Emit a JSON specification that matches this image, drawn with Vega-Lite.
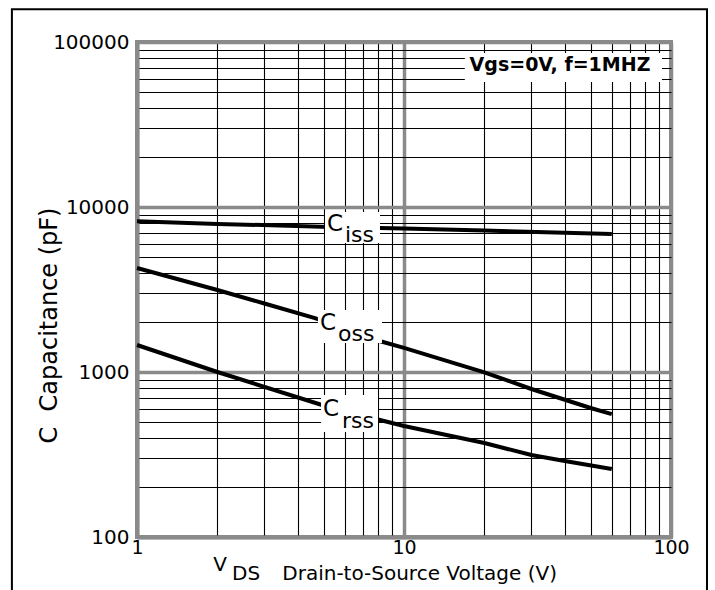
{
  "$schema": "https://vega.github.io/schema/vega-lite/v6.json",
  "width": 534,
  "height": 495,
  "autosize": {"type": "none"},
  "padding": {"left": 137, "top": 42, "right": 44, "bottom": 53},
  "background": "white",
  "datasets": {
    "curves": [
      {"s": "Ciss", "x": 1, "y": 8200}, {"s": "Ciss", "x": 2, "y": 7900}, {"s": "Ciss", "x": 4.9, "y": 7600},
      {"s": "Ciss", "x": 8.1, "y": 7460}, {"s": "Ciss", "x": 10, "y": 7420}, {"s": "Ciss", "x": 20, "y": 7200},
      {"s": "Ciss", "x": 40, "y": 6970}, {"s": "Ciss", "x": 60, "y": 6850},
      {"s": "Coss", "x": 1, "y": 4270}, {"s": "Coss", "x": 2, "y": 3140}, {"s": "Coss", "x": 3, "y": 2600},
      {"s": "Coss", "x": 4.64, "y": 2120}, {"s": "Coss", "x": 8.1, "y": 1541}, {"s": "Coss", "x": 10, "y": 1400},
      {"s": "Coss", "x": 20, "y": 995}, {"s": "Coss", "x": 30, "y": 789}, {"s": "Coss", "x": 50, "y": 605},
      {"s": "Coss", "x": 60, "y": 556},
      {"s": "Crss", "x": 1, "y": 1458}, {"s": "Crss", "x": 2, "y": 1000}, {"s": "Crss", "x": 4.93, "y": 631},
      {"s": "Crss", "x": 8.13, "y": 512}, {"s": "Crss", "x": 10, "y": 471}, {"s": "Crss", "x": 20, "y": 371},
      {"s": "Crss", "x": 30, "y": 314}, {"s": "Crss", "x": 40, "y": 289}, {"s": "Crss", "x": 60, "y": 258}
    ],
    "boxes": [
      {"x": 5.06, "x2": 8.13, "y": 9333, "y2": 6053},
      {"x": 4.76, "x2": 8.27, "y": 2377, "y2": 1500},
      {"x": 4.89, "x2": 7.99, "y": 726, "y2": 433},
      {"x": 16.9, "x2": 92.5, "y": 85700, "y2": 57300}
    ],
    "frame": [
      {"x": 0.34, "x2": 136.4, "y": 158000, "y2": 30}
    ],
    "bigC": [
      {"x": 5.15, "y": 7943, "t": "C"},
      {"x": 4.85, "y": 1995, "t": "C"},
      {"x": 4.97, "y": 593, "t": "C"}
    ],
    "subs": [
      {"x": 6.01, "y": 6761, "t": "iss"},
      {"x": 5.66, "y": 1698, "t": "oss"},
      {"x": 5.86, "y": 505, "t": "rss"}
    ],
    "cond": [
      {"x": 38.4, "y": 72600, "t": "Vgs=0V, f=1MHZ"}
    ],
    "xt1": [
      {"x": 1.93, "y": 62, "t": "V"}
    ],
    "xt2": [
      {"x": 2.27, "y": 54.5, "t": "DS"},
      {"x": 3.5, "y": 54.5, "t": "Drain-to-Source Voltage (V)"}
    ]
  },
  "encoding": {
    "x": {
      "field": "x", "type": "quantitative",
      "scale": {"type": "log", "domain": [1, 100], "nice": false},
      "axis": {
        "title": null,
        "values": [1, 2, 3, 4, 5, 6, 7, 8, 9, 10, 20, 30, 40, 50, 60, 70, 80, 90, 100],
        "labelExpr": "indexof([1,10,100], datum.value) >= 0 ? format(datum.value, 'd') : ''",
        "labelOverlap": false,
        "labelFlush": false,
        "labelBaseline": "top",
        "labelPadding": 1,
        "labelFontSize": 19,
        "ticks": false,
        "grid": true,
        "gridColor": {"condition": {"test": "indexof([1,10,100], datum.value) >= 0", "value": "#8a8a8a"}, "value": "#000000"},
        "gridWidth": {"condition": {"test": "indexof([1,10,100], datum.value) >= 0", "value": 3.5}, "value": 1.1},
        "gridOpacity": 1,
        "domainColor": "#8a8a8a",
        "domainWidth": 4
      }
    },
    "y": {
      "field": "y", "type": "quantitative",
      "scale": {"type": "log", "domain": [100, 100000], "nice": false},
      "axis": {
        "title": "C\u00a0 Capacitance (pF)",
        "titleX": -88,
        "titleY": 283,
        "titleAngle": -90,
        "titleAlign": "center",
        "titleBaseline": "middle",
        "titleFontSize": 24,
        "values": [100, 200, 300, 400, 500, 600, 700, 800, 900, 1000, 2000, 3000, 4000, 5000, 6000, 7000, 8000, 9000, 10000, 20000, 30000, 40000, 50000, 60000, 70000, 80000, 90000, 100000],
        "labelExpr": "indexof([100,1000,10000,100000], datum.value) >= 0 ? format(datum.value, 'd') : ''",
        "labelOverlap": false,
        "labelFlush": false,
        "labelPadding": 8,
        "ticks": false,
        "grid": true,
        "gridColor": {"condition": {"test": "indexof([100,1000,10000,100000], datum.value) >= 0", "value": "#8a8a8a"}, "value": "#000000"},
        "gridWidth": {"condition": {"test": "indexof([100,1000,10000,100000], datum.value) >= 0", "value": 3.5}, "value": 1.1},
        "gridOpacity": 1,
        "domainColor": "#8a8a8a",
        "domainWidth": 4
      }
    }
  },
  "layer": [
    {
      "data": {"name": "curves"},
      "mark": {"type": "line", "color": "black", "strokeWidth": 4, "strokeCap": "butt"},
      "encoding": {"detail": {"field": "s", "type": "nominal"}}
    },
    {
      "data": {"name": "boxes"},
      "mark": {"type": "rect", "fill": "white", "stroke": null},
      "encoding": {"x2": {"field": "x2"}, "y2": {"field": "y2"}}
    },
    {
      "data": {"name": "frame"},
      "mark": {"type": "rect", "filled": false, "stroke": "black", "strokeWidth": 2},
      "encoding": {"x2": {"field": "x2"}, "y2": {"field": "y2"}}
    },
    {
      "data": {"name": "bigC"},
      "mark": {"type": "text", "font": "DejaVu Sans", "fontSize": 23, "align": "left", "baseline": "middle", "color": "black"},
      "encoding": {"text": {"field": "t"}}
    },
    {
      "data": {"name": "subs"},
      "mark": {"type": "text", "font": "DejaVu Sans", "fontSize": 22, "align": "left", "baseline": "middle", "color": "black"},
      "encoding": {"text": {"field": "t"}}
    },
    {
      "data": {"name": "cond"},
      "mark": {"type": "text", "font": "DejaVu Sans", "fontSize": 19, "fontWeight": "bold", "align": "center", "baseline": "middle", "color": "black"},
      "encoding": {"text": {"field": "t"}}
    },
    {
      "data": {"name": "xt1"},
      "mark": {"type": "text", "font": "DejaVu Sans", "fontSize": 20, "align": "left", "baseline": "alphabetic", "color": "black"},
      "encoding": {"text": {"field": "t"}}
    },
    {
      "data": {"name": "xt2"},
      "mark": {"type": "text", "font": "DejaVu Sans", "fontSize": 20, "align": "left", "baseline": "alphabetic", "color": "black"},
      "encoding": {"text": {"field": "t"}}
    }
  ],
  "config": {
    "view": {"stroke": "#8a8a8a", "strokeWidth": 4},
    "axis": {
      "labelFont": "DejaVu Sans",
      "labelFontSize": 20,
      "labelColor": "black",
      "titleFont": "DejaVu Sans",
      "titleFontWeight": "normal",
      "titleColor": "black"
    }
  }
}
